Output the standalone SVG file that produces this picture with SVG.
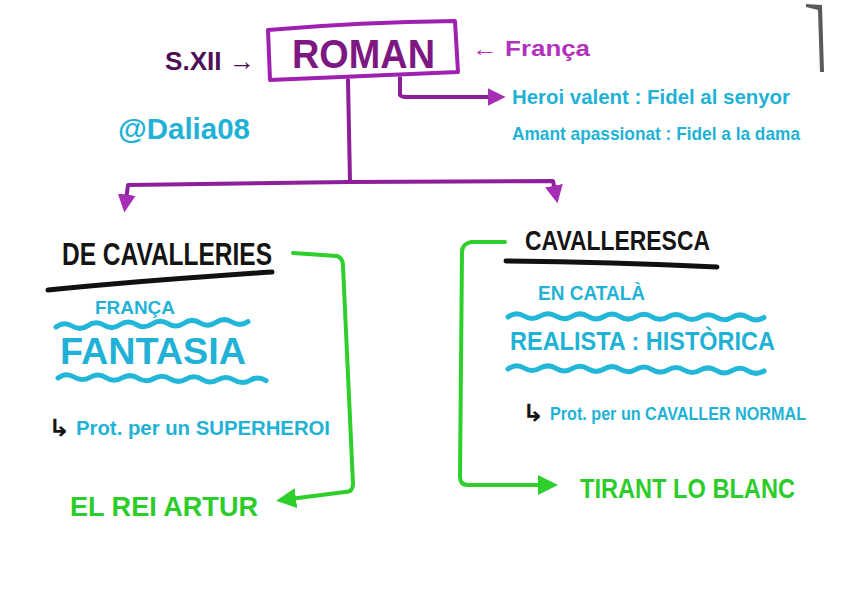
<svg xmlns="http://www.w3.org/2000/svg" width="848" height="599" viewBox="0 0 848 599">
<style>
  .t{font-family:"Liberation Sans","DejaVu Sans",sans-serif;font-weight:bold;}
  .cyan{fill:#1fb2d6;}
  .green{fill:#2ccc2a;}
  .blk{fill:#141414;}
  .pline{fill:none;stroke:#8e1f9b;stroke-width:4;stroke-linecap:round;stroke-linejoin:round;}
  .gline{fill:none;stroke:#2ecf2b;stroke-width:4;stroke-linecap:round;stroke-linejoin:round;}
  .wave{fill:none;stroke:#22b6d9;stroke-width:5;stroke-linecap:round;}
  .under{fill:none;stroke:#111;stroke-width:5;stroke-linecap:round;}
</style>
<defs>
  <marker id="ap" viewBox="0 0 10 10" refX="3" refY="5" markerWidth="4.5" markerHeight="4.5" orient="auto">
    <path d="M0,0 L10,5 L0,10 z" fill="#a52fb4"/>
  </marker>
  <marker id="ag" viewBox="0 0 10 10" refX="3" refY="5" markerWidth="5" markerHeight="5" orient="auto">
    <path d="M0,0 L10,5 L0,10 z" fill="#2ecf2b"/>
  </marker>
</defs>
<rect width="848" height="599" fill="#ffffff"/>
<path d="M806,4 L822,5 L824,72 L820,72 L818,10 L806,7 z" fill="#5a5a5a"/>

<g id="connectors">
  <path class="pline" d="M348,80 L350,182"/>
  <path class="pline" d="M350,182 L128,185 L126,200" marker-end="url(#ap)"/>
  <path class="pline" d="M350,182 L553,181 L555,191" marker-end="url(#ap)"/>
  <path class="pline" d="M400,78 L400,95 Q401,97 408,97 L493,97" marker-end="url(#ap)"/>
  <path class="gline" d="M293,253 L337,256 Q343,258 343,266 L353,484 Q353,492 345,492 L290,499" marker-end="url(#ag)"/>
  <path class="gline" d="M505,242 L471,242 Q462,244 462,252 L460,477 Q460,485 468,485 L544,485" marker-end="url(#ag)"/>
</g>

<g id="roman">
  <path d="M268,30 Q360,22 455,21 L458,72 Q360,76 270,80 Z" fill="none" stroke="#a020b0" stroke-width="4" stroke-linejoin="round"/>
  <text class="t" x="292" y="68" font-size="40" fill="#7d1883" textLength="143" lengthAdjust="spacingAndGlyphs">ROMAN</text>
</g>
<g id="sxii">
  <text class="t" x="165" y="70" font-size="26" fill="#4e1058" textLength="90" lengthAdjust="spacingAndGlyphs">S.XII →</text>
</g>
<g id="franca">
  <text class="t" x="472" y="56" font-size="22" fill="#b232bd" textLength="118" lengthAdjust="spacingAndGlyphs">← França</text>
</g>
<g id="notes">
  <text class="t cyan" x="512" y="104" font-size="20" textLength="278" lengthAdjust="spacingAndGlyphs">Heroi valent : Fidel al senyor</text>
  <text class="t cyan" x="512" y="140" font-size="19" textLength="288" lengthAdjust="spacingAndGlyphs">Amant apassionat : Fidel a la dama</text>
</g>
<g id="author">
  <text class="t cyan" x="118" y="139" font-size="30" textLength="132" lengthAdjust="spacingAndGlyphs">@Dalia08</text>
</g>

<g id="de-cavalleries">
  <text class="t blk" x="62" y="265" font-size="32" textLength="210" lengthAdjust="spacingAndGlyphs">DE CAVALLERIES</text>
  <path class="under" d="M48,290 Q150,280 272,272"/>
  <text class="t cyan" x="95" y="314" font-size="18" textLength="80" lengthAdjust="spacingAndGlyphs">FRANÇA</text>
  <path class="wave" d="M56,327 q8,-6 16,-1 t16,-0.4 t16,-0.4 t16,-0.4 t16,-0.4 t16,-0.4 t16,-0.4 t16,-0.4 t16,-0.4 t16,-0.4 t16,-0.4 t16,-0.4"/>
  <text class="t cyan" x="60" y="364" font-size="36" textLength="186" lengthAdjust="spacingAndGlyphs">FANTASIA</text>
  <path class="wave" d="M58,378 q8,-6 16,-1 t16,0.3 t16,0.3 t16,0.3 t16,0.3 t16,0.3 t16,0.3 t16,0.3 t16,0.3 t16,0.3 t16,0.3 t16,0.3 t16,0.3"/>
  <text class="t blk" x="48" y="436" font-size="24" textLength="22" lengthAdjust="spacingAndGlyphs">↳</text>
  <text class="t cyan" x="76" y="435" font-size="21" textLength="254" lengthAdjust="spacingAndGlyphs">Prot. per un SUPERHEROI</text>
</g>
<g id="rei-artur">
  <text class="t green" x="70" y="516" font-size="28" textLength="188" lengthAdjust="spacingAndGlyphs">EL REI ARTUR</text>
</g>

<g id="cavalleresca">
  <text class="t blk" x="525" y="250" font-size="27" textLength="185" lengthAdjust="spacingAndGlyphs">CAVALLERESCA</text>
  <path class="under" d="M506,261 Q610,262 717,267"/>
  <text class="t cyan" x="538" y="300" font-size="20" textLength="107" lengthAdjust="spacingAndGlyphs">EN CATALÀ</text>
  <path class="wave" d="M508,317 q8,-6 16,-1 t16,0.1 t16,0.1 t16,0.1 t16,0.1 t16,0.1 t16,0.1 t16,0.1 t16,0.1 t16,0.1 t16,0.1 t16,0.1 t16,0.1 t16,0.1 t16,0.1 t16,0.1"/>
  <text class="t cyan" x="510" y="350" font-size="26" textLength="265" lengthAdjust="spacingAndGlyphs">REALISTA : HISTÒRICA</text>
  <path class="wave" d="M508,369 q8,-6 16,-1 t16,0.2 t16,0.2 t16,0.2 t16,0.2 t16,0.2 t16,0.2 t16,0.2 t16,0.2 t16,0.2 t16,0.2 t16,0.2 t16,0.2 t16,0.2 t16,0.2 t16,0.2"/>
  <text class="t blk" x="522" y="421" font-size="24" textLength="22" lengthAdjust="spacingAndGlyphs">↳</text>
  <text class="t cyan" x="550" y="420" font-size="18" textLength="256" lengthAdjust="spacingAndGlyphs">Prot. per un CAVALLER NORMAL</text>
</g>
<g id="tirant">
  <text class="t green" x="580" y="498" font-size="27" textLength="215" lengthAdjust="spacingAndGlyphs">TIRANT LO BLANC</text>
</g>
</svg>
